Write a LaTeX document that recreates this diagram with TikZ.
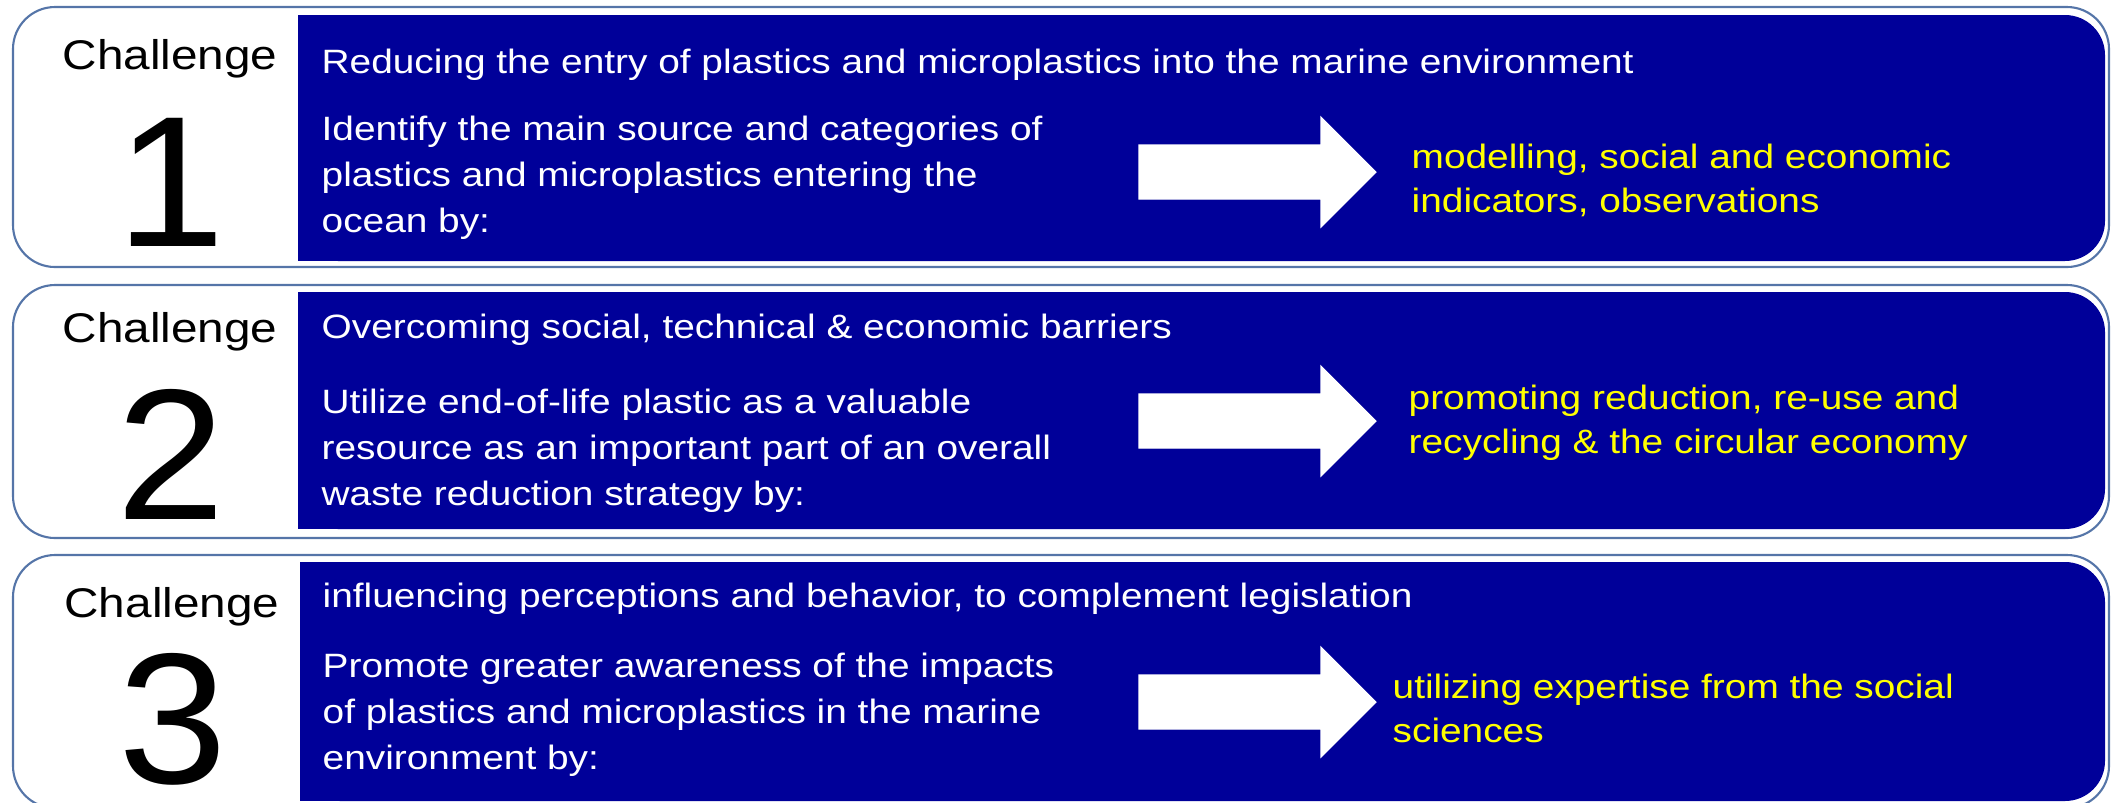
\documentclass[tikz,border=0pt]{standalone}
\usepackage{fontspec}
\setmainfont{Liberation Sans}
\newfontfamily\chfont[FakeStretch=1.15]{Liberation Sans}
\newfontfamily\numfont[FakeStretch=1.05]{Liberation Sans}
\definecolor{OceanBlue}{HTML}{000099}
\definecolor{MarkerYellow}{HTML}{FFFF00}
\definecolor{FrameSteel}{HTML}{5575A8}
\newcommand{\textlines}[1]{\parbox[t]{9cm}{\raggedright #1}}

\begin{document}
\begin{tikzpicture}[x=0.01cm, y=-0.01cm,
    rowframe/.style={draw=FrameSteel, fill=white, line width=0.6pt, rounded corners=0.42cm},
    bluebox/.style={fill=OceanBlue},
    challenge/.style={anchor=base, inner sep=0pt, font=\chfont\fontsize{11.8}{14}\selectfont},
    bignum/.style={anchor=base, inner sep=0pt, font=\numfont\fontsize{53}{60}\selectfont},
    goal/.style={anchor=base west, inner sep=0pt, text=white, font=\chfont\fontsize{9.6}{13.1}\selectfont},
    outcome/.style={anchor=base west, inner sep=0pt, text=MarkerYellow, font=\chfont\fontsize{9.6}{12.6}\selectfont},
    fatarrow/.style={fill=white, draw=white, line width=0.3pt}]
  \useasboundingbox (0,0) rectangle (2111,802);
  \clip (0,0) rectangle (2111,802);

  % Row frames
  \draw[rowframe] (13,7) rectangle (2109,267);
  \draw[rowframe] (13,285) rectangle (2109,538);
  \draw[rowframe] (13,555) rectangle (2109,808);

  % Blue panels, rounded on the right only
  \fill[bluebox, rounded corners=0.4cm] (298,15) rectangle (2105,261);
  \fill[bluebox] (298,15) rectangle (600,261);
  \fill[bluebox, rounded corners=0.4cm] (298,292) rectangle (2105,529);
  \fill[bluebox] (298,292) rectangle (600,529);
  \fill[bluebox, rounded corners=0.4cm] (300,562) rectangle (2105,801);
  \fill[bluebox] (300,562) rectangle (600,801);

  % Challenge labels
  \node[challenge] (ch1) at (170,69) {Challenge};
  \node[bignum] (num1) at (171,246) {1};
  \node[challenge] (ch2) at (170,342) {Challenge};
  \node[bignum] (num2) at (171,519) {2};
  \node[challenge] (ch3) at (172,617) {Challenge};
  \node[bignum] (num3) at (173,783) {3};

  % Goals and tasks
  \node[goal] (goal1) at (321,73) {Reducing the entry of plastics and microplastics into the marine environment};
  \node[goal] (task1) at (321,140) {\textlines{Identify the main source and categories of\\
    plastics and microplastics entering the\\ ocean by:}};
  \node[goal] (goal2) at (321,338) {Overcoming social, technical \& economic barriers};
  \node[goal] (task2) at (321,413) {\textlines{Utilize end-of-life plastic as a valuable\\
    resource as an important part of an overall\\ waste reduction strategy by:}};
  \node[goal] (goal3) at (322,607) {influencing perceptions and behavior, to complement legislation};
  \node[goal] (task3) at (322,677) {\textlines{Promote greater awareness of the impacts\\
    of plastics and microplastics in the marine\\ environment by:}};

  % Big arrows
  \foreach \y in {172,421,702}
    \filldraw[fatarrow] (1139,\y-27) -- (1321,\y-27) -- (1321,\y-55) -- (1376,\y)
      -- (1321,\y+55) -- (1321,\y+27) -- (1139,\y+27) -- cycle;

  % Outcomes
  \node[outcome] (out1) at (1411,168) {\textlines{modelling, social and economic\\ indicators, observations}};
  \node[outcome] (out2) at (1408,409) {\textlines{promoting reduction, re-use and\\ recycling \& the circular economy}};
  \node[outcome] (out3) at (1392,698) {\textlines{utilizing expertise from the social\\ sciences}};
\end{tikzpicture}
\end{document}
